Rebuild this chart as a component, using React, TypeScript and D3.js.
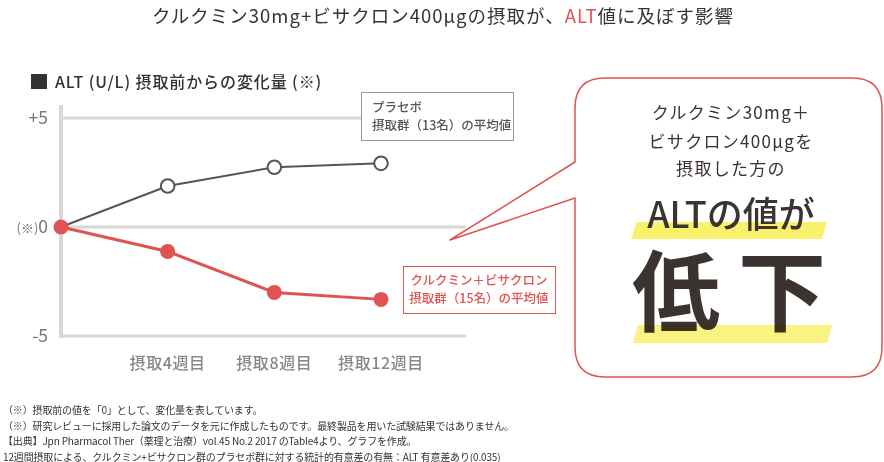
import * as d3 from "d3";

// data
const weeks = [0, 4, 8, 12];
const weekLabels = ["", "摂取4週目", "摂取8週目", "摂取12週目"];
const placebo = [0, 1.88, 2.74, 2.92];
const curcumin = [0, -1.12, -3.0, -3.32];
const yTicks = [5, 0, -5];
const yTickLabels = ["+5", "(※)0", "-5"];

const notes = [
  "（※）摂取前の値を「0」として、変化量を表しています。",
  "（※）研究レビューに採用した論文のデータを元に作成したものです。最終製品を用いた試験結果ではありません。",
  "【出典】Jpn Pharmacol Ther（薬理と治療）vol.45 No.2 2017 のTable4より、グラフを作成。",
  "12週間摂取による、クルクミン+ビサクロン群のプラセボ群に対する統計的有意差の有無：ALT 有意差あり(0.035)",
];

const RED = "#e05353";
const INK = "#3a3330";
const FONT = "'Noto Sans CJK JP', 'Noto Sans', sans-serif";

export default function App() {
  const width = 884;
  const height = 462;

  const x = d3.scaleLinear().domain([0, 12]).range([61, 381]);
  const y = d3.scaleLinear().domain([-5, 5]).range([336, 118]);

  const line = d3.line<number>()
    .x((_, i) => x(weeks[i]))
    .y(d => y(d));

  // callout bubble
  const bx0 = 575, bx1 = 882, by0 = 78, by1 = 377, r = 30;
  const bubble = [
    `M${bx0},162`,
    `L${bx0},${by0 + r}`,
    `Q${bx0},${by0} ${bx0 + r},${by0}`,
    `L${bx1 - r},${by0}`,
    `Q${bx1},${by0} ${bx1},${by0 + r}`,
    `L${bx1},${by1 - r}`,
    `Q${bx1},${by1} ${bx1 - r},${by1}`,
    `L${bx0 + r},${by1}`,
    `Q${bx0},${by1} ${bx0},${by1 - r}`,
    `L${bx0},198`,
    `L450,240`,
    `Z`,
  ].join(" ");

  return (
    <svg width={width} height={height} style={{ position: "absolute", left: 0, top: 0, fontFamily: FONT }}>
      <rect width={width} height={height} fill="#fff" />

      {/* title */}
      <text x={443} y={23} textAnchor="middle" fontSize={18.5} fill={INK} letterSpacing={1}>
        クルクミン30mg+ビサクロン400μgの摂取が、<tspan fill={RED}>ALT</tspan>値に及ぼす影響
      </text>

      {/* legend header */}
      <rect x={31} y={74} width={16} height={15} fill="#333" />
      <text x={55} y={88} fontSize={16} fontWeight={500} fill="#333" letterSpacing={0.9}>
        ALT (U/L) 摂取前からの変化量 (※)
      </text>

      {/* grid */}
      {yTicks.map(t => (
        <line key={t} x1={61} x2={466} y1={y(t)} y2={y(t)} stroke="#d8d8d8" strokeWidth={3} />
      ))}
      <line x1={61} x2={61} y1={105} y2={338} stroke="#d8d8d8" strokeWidth={4} />

      {yTicks.map((t, i) => (
        <text key={t} x={48} y={y(t)} dy="0.36em" textAnchor="end" fontSize={17.5} fill="#777">
          {i === 1 ? (
            <>
              <tspan fontSize={13}>(※)</tspan>0
            </>
          ) : (
            yTickLabels[i]
          )}
        </text>
      ))}

      {weeks.map((w, i) =>
        weekLabels[i] ? (
          <text key={w} x={x(w)} y={369} textAnchor="middle" fontSize={16} fontWeight={500} fill="#888" letterSpacing={0.6}>
            {weekLabels[i]}
          </text>
        ) : null
      )}

      {/* series */}
      <path d={line(placebo) ?? ""} fill="none" stroke="#555" strokeWidth={2} />
      {placebo.map((v, i) =>
        i === 0 ? null : (
          <circle key={i} cx={x(weeks[i])} cy={y(v)} r={6.8} fill="#fff" stroke="#555" strokeWidth={2} />
        )
      )}
      <path d={line(curcumin) ?? ""} fill="none" stroke={RED} strokeWidth={3} />
      {curcumin.map((v, i) => (
        <circle key={i} cx={x(weeks[i])} cy={y(v)} r={7.5} fill={RED} />
      ))}

      {/* series labels */}
      <rect x={361.5} y={92.5} width={152} height={48} fill="#fff" stroke="#999" strokeWidth={1} />
      <text x={372} y={112} fontSize={12.5} fontWeight={500} fill="#555">プラセボ</text>
      <text x={372} y={130} fontSize={12.5} fontWeight={500} fill="#555">摂取群（13名）の平均値</text>

      <rect x={403.5} y={266.5} width={152} height={47} fill="#fff" stroke={RED} strokeWidth={1} />
      <text x={479} y={285} textAnchor="middle" fontSize={12.5} fontWeight={500} fill={RED}>クルクミン＋ビサクロン</text>
      <text x={479} y={303} textAnchor="middle" fontSize={12.5} fontWeight={500} fill={RED}>摂取群（15名）の平均値</text>

      {/* callout */}
      <path d={bubble} fill="#fff" stroke={RED} strokeWidth={1.5} strokeLinejoin="round" />
      <text x={731} y={113} dy="0.35em" textAnchor="middle" fontSize={17} fill={INK} letterSpacing={1.3}>クルクミン30mg＋</text>
      <text x={731} y={142} dy="0.35em" textAnchor="middle" fontSize={17} fill={INK} letterSpacing={1.3}>ビサクロン400μgを</text>
      <text x={731} y={169} dy="0.35em" textAnchor="middle" fontSize={17} fill={INK} letterSpacing={1.3}>摂取した方の</text>

      <polygon points="637,222 827,222 822,239 631,239" fill="#f9f06b" />
      <text x={731} y={228} textAnchor="middle" fontSize={36} fontWeight={500} fill={INK}>ALTの値が</text>

      <text x={738} y={293} dy="0.35em" textAnchor="middle" fontSize={88} fontWeight={700} fill={INK} letterSpacing={18}>
        低下
      </text>
      <polygon points="638,325 832,325 827,343 633,343" fill="#f9f06b" opacity={0.85} style={{ mixBlendMode: "multiply" }} />

      {/* notes */}
      {notes.map((n, i) => (
        <text key={i} x={3} y={414 + i * 15.5} fontSize={10} fill="#333" letterSpacing={-0.15}>{n}</text>
      ))}
    </svg>
  );
}
